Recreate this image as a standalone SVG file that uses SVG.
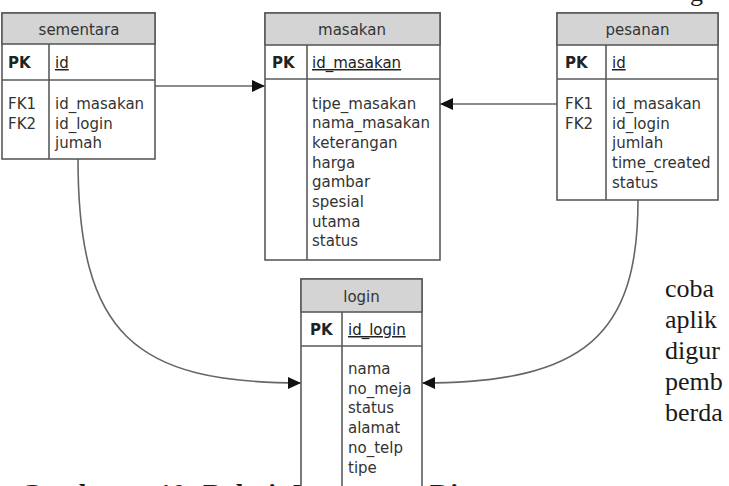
<svg xmlns="http://www.w3.org/2000/svg" width="729" height="486" viewBox="0 0 729 486">
<defs>
<marker id="arr" markerUnits="userSpaceOnUse" markerWidth="14" markerHeight="14" refX="13" refY="7" orient="auto">
<path d="M0,1 L13,7 L0,13 Z" fill="#111"/>
</marker>
<style>
.box{fill:#fff;stroke:#5a5a5a;stroke-width:1.6}
.hdr{fill:#d4d4d4;stroke:#5a5a5a;stroke-width:1.6}
.ln{stroke:#5a5a5a;stroke-width:1.6;fill:none}
.t{font-family:"DejaVu Sans",sans-serif;font-size:15px;fill:#333}
.h{text-anchor:middle}
.pk{font-weight:bold;fill:#222}
.u{text-decoration:underline;fill:#222}
.con{stroke:#666;stroke-width:1.6;fill:none;marker-end:url(#arr)}
.s{font-family:"Liberation Serif",serif;font-size:26px;fill:#1a1a1a}
</style>
</defs>
<rect width="729" height="486" fill="#fff"/>
<text class="s" x="690" y="1">g</text>
<g id="caption">
<text class="s" style="font-weight:bold;font-size:28px" y="503"><tspan x="20">Gambar</tspan><tspan x="158">10.</tspan><tspan x="203">Relasi</tspan><tspan x="293">Database</tspan><tspan x="430">Dia</tspan></text>
</g>
<g id="connectors">
<path class="con" d="M155,86 L265,86"/>
<path class="con" d="M557,104 L440,104"/>
<path class="con" d="M78,159 C78,335 135,383 301,383"/>
<path class="con" d="M638,200 C638,335 585,383 422,383"/>
</g>
<g id="sementara">
<rect class="box" x="2" y="13" width="153" height="146"/>
<rect class="hdr" x="2" y="13" width="153" height="31"/>
<line class="ln" x1="2" y1="80" x2="155" y2="80"/>
<line class="ln" x1="49" y1="44" x2="49" y2="159"/>
<text class="t h" x="79" y="35">sementara</text>
<text class="t pk" x="8" y="68">PK</text>
<text class="t u" x="55" y="68">id</text>
<text class="t" x="8" y="109">FK1</text>
<text class="t" x="8" y="128.5">FK2</text>
<text class="t" x="55" y="109">id_masakan</text>
<text class="t" x="55" y="128.5">id_login</text>
<text class="t" x="55" y="148">jumah</text>
</g>
<g id="masakan">
<rect class="box" x="265" y="13" width="175" height="247"/>
<rect class="hdr" x="265" y="13" width="175" height="32"/>
<line class="ln" x1="265" y1="79" x2="440" y2="79"/>
<line class="ln" x1="307" y1="45" x2="307" y2="260"/>
<text class="t h" x="352" y="35">masakan</text>
<text class="t pk" x="272" y="68">PK</text>
<text class="t u" x="312" y="68">id_masakan</text>
<text class="t" x="312" y="108.5">tipe_masakan</text>
<text class="t" x="312" y="128.2">nama_masakan</text>
<text class="t" x="312" y="147.9">keterangan</text>
<text class="t" x="312" y="167.6">harga</text>
<text class="t" x="312" y="187.3">gambar</text>
<text class="t" x="312" y="207">spesial</text>
<text class="t" x="312" y="226.7">utama</text>
<text class="t" x="312" y="246.4">status</text>
</g>
<g id="pesanan">
<rect class="box" x="557" y="13" width="161" height="187"/>
<rect class="hdr" x="557" y="13" width="161" height="32"/>
<line class="ln" x1="557" y1="79" x2="718" y2="79"/>
<line class="ln" x1="606" y1="45" x2="606" y2="200"/>
<text class="t h" x="637.5" y="35">pesanan</text>
<text class="t pk" x="565" y="68">PK</text>
<text class="t u" x="612" y="68">id</text>
<text class="t" x="565" y="109">FK1</text>
<text class="t" x="565" y="128.7">FK2</text>
<text class="t" x="612" y="109">id_masakan</text>
<text class="t" x="612" y="128.7">id_login</text>
<text class="t" x="612" y="148.4">jumlah</text>
<text class="t" x="612" y="168.1">time_created</text>
<text class="t" x="612" y="187.8">status</text>
</g>
<g id="login">
<rect class="box" x="301" y="279" width="121" height="220"/>
<rect class="hdr" x="301" y="279" width="121" height="33"/>
<line class="ln" x1="301" y1="346" x2="422" y2="346"/>
<line class="ln" x1="342" y1="312" x2="342" y2="499"/>
<text class="t h" x="361.5" y="302">login</text>
<text class="t pk" x="310" y="335">PK</text>
<text class="t u" x="348" y="335">id_login</text>
<text class="t" x="348" y="374">nama</text>
<text class="t" x="348" y="393.7">no_meja</text>
<text class="t" x="348" y="413.4">status</text>
<text class="t" x="348" y="433.1">alamat</text>
<text class="t" x="348" y="452.8">no_telp</text>
<text class="t" x="348" y="472.5">tipe</text>
</g>
<g id="bodytext">
<text class="s" x="665" y="297">coba</text>
<text class="s" x="665" y="328">aplik</text>
<text class="s" x="665" y="359">digur</text>
<text class="s" x="665" y="390">pemb</text>
<text class="s" x="665" y="421">berda</text>
</g>
</svg>
